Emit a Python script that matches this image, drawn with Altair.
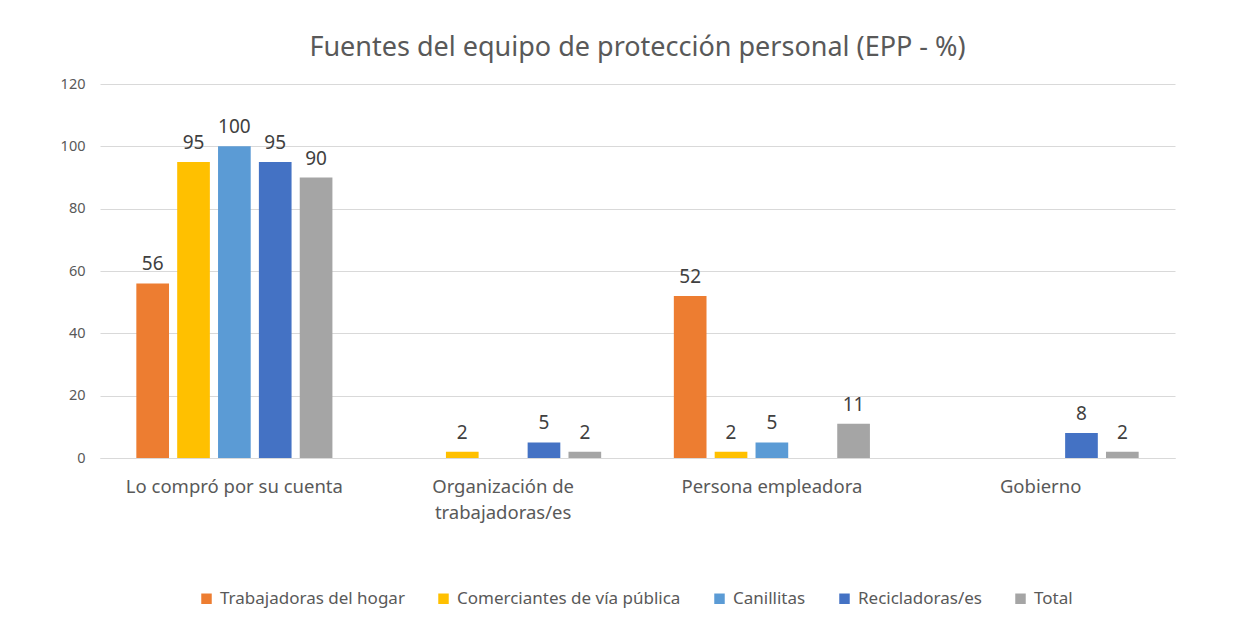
import altair as alt
import pandas as pd

categories = ["Lo compró por su cuenta", "Organización de trabajadoras/es",
              "Persona empleadora", "Gobierno"]
series = ["Trabajadoras del hogar", "Comerciantes de vía pública", "Canillitas",
          "Recicladoras/es", "Total"]
colors = ["#ED7D31", "#FFC000", "#5B9BD5", "#4472C4", "#A5A5A5"]

trabajadoras_hogar = [56, None, 52, None]
comerciantes = [95, 2, 2, None]
canillitas = [100, None, 5, None]
recicladoras = [95, 5, None, 8]
total = [90, 2, 11, 2]

all_values = [trabajadoras_hogar, comerciantes, canillitas, recicladoras, total]
rows = []
for s, vals in zip(series, all_values):
    for c, v in zip(categories, vals):
        if v is not None:
            rows.append({"Categoría": c, "Serie": s, "Valor": v})
df = pd.DataFrame(rows)

FONT = "Noto Sans"

x = alt.X("Categoría:N", sort=categories, title=None,
          scale=alt.Scale(paddingInner=0.24, paddingOuter=0.12),
          axis=alt.Axis(labelAngle=0, labelFontSize=18.5, labelColor="#595959",
                        labelFont=FONT, labelPadding=19, ticks=False, labelLimit=0,
                        domainColor="#D9D9D9", labelLineHeight=26,
                        labelExpr="datum.value == 'Organización de trabajadoras/es' ? ['Organización de', 'trabajadoras/es'] : datum.value"))
xoff = alt.XOffset("Serie:N", sort=series,
                   scale=alt.Scale(domain=series, paddingInner=0.2, paddingOuter=0.1))
y = alt.Y("Valor:Q", title=None,
          scale=alt.Scale(domain=[0, 120]),
          axis=alt.Axis(values=[0, 20, 40, 60, 80, 100, 120], labelFontSize=14.5,
                        labelColor="#595959", labelFont=FONT, domain=False,
                        ticks=False, labelPadding=15, gridColor="#D9D9D9"))
color = alt.Color("Serie:N", sort=series,
                  scale=alt.Scale(domain=series, range=colors),
                  legend=alt.Legend(title=None, orient="none", direction="horizontal",
                                    columns=5, legendX=98, legendY=506,
                                    symbolType="square", symbolSize=110,
                                    symbolStrokeWidth=0, labelFontSize=17,
                                    labelFont=FONT, labelColor="#595959", labelLimit=0,
                                    columnPadding=30, labelOffset=5))

bars = alt.Chart(df).mark_bar().encode(x=x, xOffset=xoff, y=y, color=color)
labels = alt.Chart(df).mark_text(baseline="bottom", dy=-9, fontSize=19,
                                 font=FONT, color="#404040").encode(
    x=x, xOffset=xoff, y=y, text="Valor:Q")

chart = alt.layer(bars, labels).properties(
    width=1075, height=374,
    padding={"left": 92, "top": 76, "right": 61, "bottom": 155},
    autosize=alt.AutoSizeParams(type="none"),
    background="white",
    title=alt.TitleParams("Fuentes del equipo de protección personal (EPP - %)",
                          fontSize=27, font=FONT, fontWeight="normal",
                          color="#595959", anchor="middle", offset=14),
).configure_view(strokeWidth=0, stroke="transparent")

chart.save("out.html", embed_options={"renderer": "svg", "actions": False})
